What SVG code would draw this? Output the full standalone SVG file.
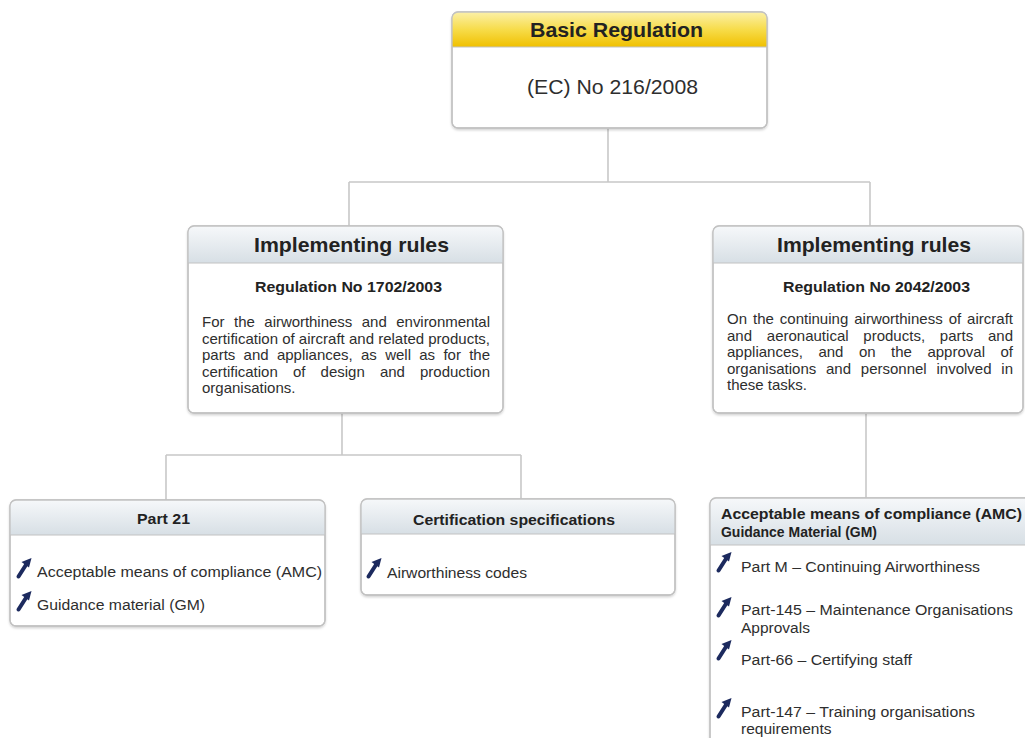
<svg xmlns="http://www.w3.org/2000/svg" width="1025" height="738" viewBox="0 0 1025 738">
<defs>
<linearGradient id="gy" x1="0" y1="0" x2="0" y2="1">
<stop offset="0" stop-color="#fbf0a8"/>
<stop offset="0.5" stop-color="#f7dc4a"/>
<stop offset="1" stop-color="#f0c000"/>
</linearGradient>
<linearGradient id="gg" x1="0" y1="0" x2="0" y2="1">
<stop offset="0" stop-color="#f6f8fa"/>
<stop offset="1" stop-color="#d7dfe5"/>
</linearGradient>
<filter id="sh" x="-5%" y="-5%" width="110%" height="115%">
<feDropShadow dx="0" dy="1.5" stdDeviation="1.2" flood-color="#000" flood-opacity="0.18"/>
</filter>
<g id="arr">
<path d="M2.5 18.5 L10.5 6" stroke="#1c2a5e" stroke-width="4" stroke-linecap="round" fill="none"/>
<path d="M15.5 0 L5.5 4 L13 9.5 Z" fill="#1c2a5e"/>
</g>
<clipPath id="c0"><rect x="452" y="12" width="315" height="116" rx="6"/></clipPath>
<clipPath id="c1"><rect x="188" y="226" width="315" height="187" rx="6"/></clipPath>
<clipPath id="c2"><rect x="713" y="226" width="310" height="187" rx="6"/></clipPath>
<clipPath id="c3"><rect x="10" y="500" width="315" height="126" rx="6"/></clipPath>
<clipPath id="c4"><rect x="361" y="499" width="314" height="96" rx="6"/></clipPath>
<clipPath id="c5"><rect x="710" y="498" width="330" height="260" rx="6"/></clipPath>
</defs>
<style>
.box{fill:#fff;stroke:#c2c2c2;stroke-width:1.3}
.hl{stroke:#c2c2c2;stroke-width:1;fill:none}
.conn{stroke:#c8c8c8;stroke-width:1.6;fill:none}
text{font-family:"Liberation Sans",Arial,sans-serif;fill:#2e2e2e}
.b{font-weight:bold;fill:#222}
.t{font-size:15px}
.i{font-size:15.5px}
.h{font-size:14.5px}
</style>
<g id="connectors">
<path class="conn" d="M608 128 V182 M349 182 H870 M349 182 V226 M870 182 V226"/>
<path class="conn" d="M342 413 V455 M166 455 H521 M166 455 V500 M521 455 V499"/>
<path class="conn" d="M866 413 V498"/>
</g>
<g id="basic">
<rect class="box" x="452" y="12" width="315" height="116" rx="6" filter="url(#sh)"/>
<rect x="452" y="12" width="315" height="35" fill="url(#gy)" clip-path="url(#c0)"/>
<line class="hl" x1="452" y1="47" x2="767" y2="47"/>
<rect x="452" y="12" width="315" height="116" rx="6" fill="none" stroke="#c2c2c2" stroke-width="1.3"/>
<text class="b" x="530" y="37" font-size="20" textLength="173" lengthAdjust="spacingAndGlyphs">Basic Regulation</text>
<text x="527" y="94" font-size="20.5" textLength="171" lengthAdjust="spacingAndGlyphs">(EC) No 216/2008</text>
</g>
<g id="ir1">
<rect class="box" x="188" y="226" width="315" height="187" rx="6" filter="url(#sh)"/>
<rect x="188" y="226" width="315" height="37" fill="url(#gg)" clip-path="url(#c1)"/>
<line class="hl" x1="188" y1="263" x2="503" y2="263"/>
<rect x="188" y="226" width="315" height="187" rx="6" fill="none" stroke="#c2c2c2" stroke-width="1.3"/>
<text class="b" x="254" y="252" font-size="21" textLength="195" lengthAdjust="spacingAndGlyphs">Implementing rules</text>
<text class="b" x="255" y="292" font-size="15.5" textLength="187" lengthAdjust="spacingAndGlyphs">Regulation No 1702/2003</text>
<text class="t" x="202" y="327" word-spacing="5.5" textLength="288" lengthAdjust="spacing">For the airworthiness and environmental</text>
<text class="t" x="202" y="343.5" textLength="288" lengthAdjust="spacing">certification of aircraft and related products,</text>
<text class="t" x="202" y="360" word-spacing="4.1" textLength="288" lengthAdjust="spacing">parts and appliances, as well as for the</text>
<text class="t" x="202" y="376.5" word-spacing="11" textLength="288" lengthAdjust="spacing">certification of design and production</text>
<text class="t" x="202" y="393">organisations.</text>
</g>
<g id="ir2">
<rect class="box" x="713" y="226" width="310" height="187" rx="6" filter="url(#sh)"/>
<rect x="713" y="226" width="310" height="37" fill="url(#gg)" clip-path="url(#c2)"/>
<line class="hl" x1="713" y1="263" x2="1023" y2="263"/>
<rect x="713" y="226" width="310" height="187" rx="6" fill="none" stroke="#c2c2c2" stroke-width="1.3"/>
<text class="b" x="777" y="252" font-size="21" textLength="194" lengthAdjust="spacingAndGlyphs">Implementing rules</text>
<text class="b" x="783" y="292" font-size="15.5" textLength="187" lengthAdjust="spacingAndGlyphs">Regulation No 2042/2003</text>
<text class="t" x="727" y="324" word-spacing="1.8" textLength="286" lengthAdjust="spacing">On the continuing airworthiness of aircraft</text>
<text class="t" x="727" y="340.5" word-spacing="10.6" textLength="286" lengthAdjust="spacing">and aeronautical products, parts and</text>
<text class="t" x="727" y="357" word-spacing="11.3" textLength="286" lengthAdjust="spacing">appliances, and on the approval of</text>
<text class="t" x="727" y="373.5" word-spacing="5.6" textLength="286" lengthAdjust="spacing">organisations and personnel involved in</text>
<text class="t" x="727" y="390">these tasks.</text>
</g>
<g id="part21">
<rect class="box" x="10" y="500" width="315" height="126" rx="6" filter="url(#sh)"/>
<rect x="10" y="500" width="315" height="35" fill="url(#gg)" clip-path="url(#c3)"/>
<line class="hl" x1="10" y1="535" x2="325" y2="535"/>
<rect x="10" y="500" width="315" height="126" rx="6" fill="none" stroke="#c2c2c2" stroke-width="1.3"/>
<text class="b h" x="137" y="524" textLength="53" lengthAdjust="spacingAndGlyphs">Part 21</text>
<use href="#arr" x="16" y="558"/>
<text class="i" x="37" y="577" textLength="285" lengthAdjust="spacingAndGlyphs">Acceptable means of compliance (AMC)</text>
<use href="#arr" x="16" y="591"/>
<text class="i" x="37" y="610" textLength="168" lengthAdjust="spacingAndGlyphs">Guidance material (GM)</text>
</g>
<g id="certspecs">
<rect class="box" x="361" y="499" width="314" height="96" rx="6" filter="url(#sh)"/>
<rect x="361" y="499" width="314" height="35" fill="url(#gg)" clip-path="url(#c4)"/>
<line class="hl" x1="361" y1="534" x2="675" y2="534"/>
<rect x="361" y="499" width="314" height="96" rx="6" fill="none" stroke="#c2c2c2" stroke-width="1.3"/>
<text class="b h" x="413" y="525" textLength="202" lengthAdjust="spacingAndGlyphs">Certification specifications</text>
<use href="#arr" x="366" y="558"/>
<text class="i" x="387" y="578" textLength="140" lengthAdjust="spacingAndGlyphs">Airworthiness codes</text>
</g>
<g id="amc">
<rect class="box" x="710" y="498" width="330" height="260" rx="6" filter="url(#sh)"/>
<rect x="710" y="498" width="330" height="47" fill="url(#gg)" clip-path="url(#c5)"/>
<line class="hl" x1="710" y1="545" x2="1025" y2="545"/>
<rect x="710" y="498" width="330" height="260" rx="6" fill="none" stroke="#c2c2c2" stroke-width="1.3"/>
<text class="b h" x="721" y="519" textLength="301" lengthAdjust="spacingAndGlyphs">Acceptable means of compliance (AMC)</text>
<text class="b h" x="721" y="537" textLength="156" lengthAdjust="spacingAndGlyphs">Guidance Material (GM)</text>
<use href="#arr" x="716" y="552"/>
<text class="i" x="741" y="572" textLength="239" lengthAdjust="spacingAndGlyphs">Part M – Continuing Airworthiness</text>
<use href="#arr" x="716" y="597"/>
<text class="i" x="741" y="615" textLength="272" lengthAdjust="spacingAndGlyphs">Part-145 – Maintenance Organisations</text>
<text class="i" x="741" y="633">Approvals</text>
<use href="#arr" x="716" y="640"/>
<text class="i" x="741" y="665" textLength="171" lengthAdjust="spacingAndGlyphs">Part-66 – Certifying staff</text>
<use href="#arr" x="716" y="698"/>
<text class="i" x="741" y="717" textLength="234" lengthAdjust="spacingAndGlyphs">Part-147 – Training organisations</text>
<text class="i" x="741" y="734">requirements</text>
</g>
</svg>
